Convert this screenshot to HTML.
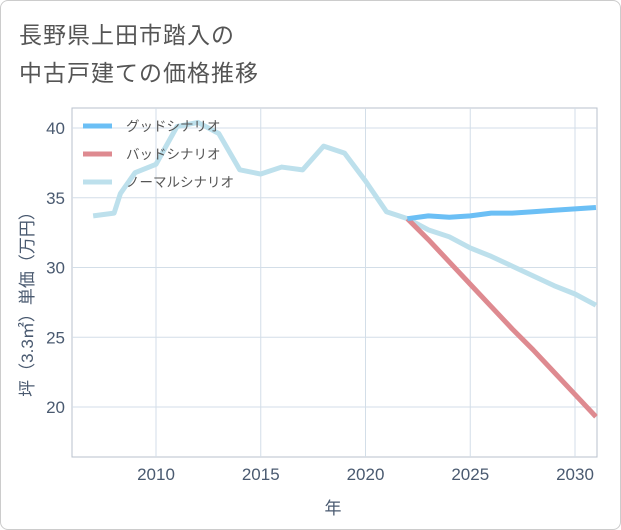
<!DOCTYPE html>
<html><head><meta charset="utf-8">
<style>
body{margin:0;background:#fff;}
#wrap{position:relative;width:619px;height:528px;border:1px solid #ccc;border-radius:8px;background:#fff;overflow:hidden;font-family:"Liberation Sans","Noto Sans CJK JP",sans-serif;}
.title{position:absolute;left:18px;font-size:23px;color:#555;letter-spacing:1px;}
</style></head><body>
<div id="wrap">
<div class="title" style="top:15px">長野県上田市踏入の</div>
<div class="title" style="top:53px">中古戸建ての価格推移</div>
<svg id="chart" width="621" height="530" style="position:absolute;left:-1px;top:-1px"></svg>
</div>
<script>
const normalYears=[2007,2008,2008.3,2009,2010,2011,2012,2013,2014,2015,2016,2017,2018,2019,2020,2021,2022,2023,2024,2025,2026,2027,2028,2029,2030,2031];
const normalVals=[33.7,33.9,35.3,36.8,37.4,40.1,40.4,39.6,37.0,36.7,37.2,37.0,38.7,38.2,36.2,34.0,33.5,32.7,32.2,31.4,30.8,30.1,29.4,28.7,28.1,27.3];
const goodYears=[2022,2023,2024,2025,2026,2027,2028,2029,2030,2031];
const goodVals=[33.5,33.7,33.6,33.7,33.9,33.9,34.0,34.1,34.2,34.3];
const badYears=[2022,2023,2024,2025,2026,2027,2028,2029,2030,2031];
const badVals=[33.5,32.0,30.4,28.8,27.2,25.6,24.1,22.5,20.9,19.3];
const xTicks=[2010,2015,2020,2025,2030];
const yTicks=[20,25,30,35,40];
const NS="http://www.w3.org/2000/svg";
const svg=document.getElementById('chart');
const L=72,R=597,T=108,B=457;
const xs=v=>156+(v-2010)*(575-156)/20;
const ys=v=>407+(v-20)*(128-407)/20;
function mk(t,a){const e=document.createElementNS(NS,t);for(const k in a)e.setAttribute(k,a[k]);svg.appendChild(e);return e;}
const frame=mk('rect',{x:L,y:T,width:R-L,height:B-T,fill:'none',stroke:'#b8c2cc','stroke-width':1});


xTicks.forEach(t=>{
 const g=mk('line',{x1:xs(t),x2:xs(t),y1:T,y2:B,stroke:'#d3dee8','stroke-width':1});
 
 
 const tx=mk('text',{x:xs(t),y:480,'text-anchor':'middle','font-size':17,fill:'#4a5a70'});
 tx.textContent=t;
 
 
});
yTicks.forEach(t=>{
 const g=mk('line',{x1:L,x2:R,y1:ys(t),y2:ys(t),stroke:'#d3dee8','stroke-width':1});
 
 
 const tx=mk('text',{x:65,y:ys(t)+6,'text-anchor':'end','font-size':17,fill:'#4a5a70'});
 tx.textContent=t;
 
 
});
function series(xa,va,color,name){
 const p=mk('polyline',{points:xa.map((x,i)=>xs(x)+','+ys(va[i])).join(' '),fill:'none',stroke:color,'stroke-width':5,'stroke-linejoin':'round'});
 
 
}
series(normalYears,normalVals,'#bde0ec','normal-scenario-line');
series(badYears,badVals,'#de8a90','bad-scenario-line');
series(goodYears,goodVals,'#6bbff5','good-scenario-line');
const legend=[['グッドシナリオ','#6bbff5','legend-good'],['バッドシナリオ','#de8a90','legend-bad'],['ノーマルシナリオ','#bde0ec','legend-normal']];
legend.forEach((l,i)=>{
 const y=126+i*28;
 const ln=mk('line',{x1:83,x2:112,y1:y,y2:y,stroke:l[1],'stroke-width':5});
 
 
 const tx=mk('text',{x:126,y:y+5,'font-size':13.5,fill:'#555'});
 tx.textContent=l[0];
 
 
});
const xt=mk('text',{x:333,y:514,'text-anchor':'middle','font-size':17,fill:'#4a5a70'});
xt.textContent='年';


const yt=mk('text',{x:0,y:0,'text-anchor':'middle','font-size':17,fill:'#4a5a70',transform:'translate(33,300) rotate(-90)'});
yt.textContent='坪（3.3㎡）単価（万円）';


</script>
</body></html>
